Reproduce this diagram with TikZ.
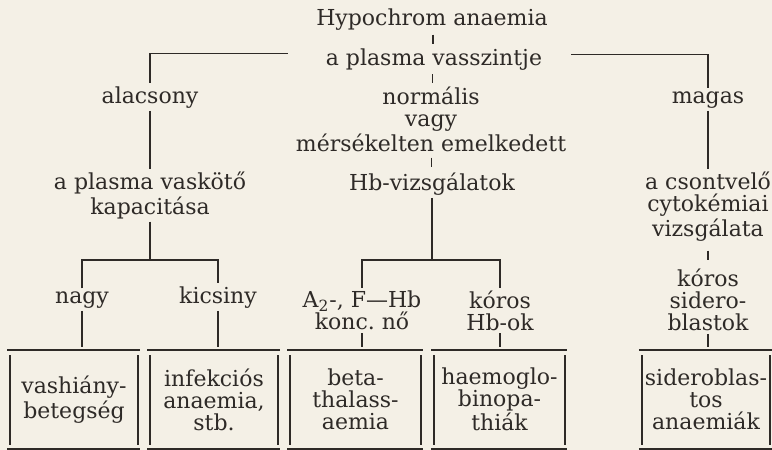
\documentclass[tikz,border=0pt]{standalone}
\usepackage{fontspec}
\setmainfont{DejaVu Serif}
\usetikzlibrary{calc}

\definecolor{paper}{HTML}{F4F0E6}
\definecolor{ink}{HTML}{2E2A27}

% short stroke half way between two stacked labels
\newcommand\stub[2]{\draw[link] ($(#1.south)!.5!(#2.north)$) ++(0,-4.5) -- ++(0,9);}

\begin{document}
\begin{tikzpicture}[x=0.5pt,y=-0.5pt,
  every node/.style={font=\fontsize{11}{11}\selectfont,text=ink,inner sep=1.5pt,outer sep=0pt},
  lbl/.style={align=center},
  leaf/.style={align=center,minimum width=64pt,minimum height=49.5pt},
  link/.style={draw=ink,line width=0.8pt}]
\fill[paper] (0,0) rectangle (772,450);
\useasboundingbox (0,0) rectangle (772,450);

% labels
\node[anchor=base] (hypo) at (432,25) {Hypochrom anaemia};
\node[anchor=base] (vassz) at (434,65) {a plasma vasszintje};
\node[anchor=base] (alacs) at (150,103) {alacsony};
\node[lbl] (normal) at (431,119.5) {normális\\vagy\\mérsékelten emelkedett};
\node[anchor=base] (magas) at (708,103) {magas};
\node[lbl] (kapac) at (150,195.5) {a plasma vaskötő\\kapacitása};
\node[anchor=base] (hbvizs) at (432,190) {Hb-vizsgálatok};
\node[lbl] (csont) at (708,206.5) {a csontvelő\\cytokémiai\\vizsgálata};
\node[anchor=base] (nagy) at (82,303) {nagy};
\node[anchor=base] (kicsi) at (218,303) {kicsiny};
\node[lbl] (konc) at (362,310.5) {A\textsubscript{2}-, F---Hb\\konc.\ nő};
\node[lbl] (korhb) at (500,310.5) {kóros\\Hb-ok};
\node[lbl] (korsid) at (708,300) {kóros\\sidero-\\blastok};

% end boxes
\node[leaf] (vashiany) at (74,399.5) {vashiány-\\betegség};
\node[leaf] (infekc) at (214,399.5) {infekciós\\anaemia,\\stb.};
\node[leaf,minimum width=65.5pt] (thalass) at (355.5,399.5) {beta-\\thalass-\\aemia};
\node[leaf,minimum width=65.5pt] (haemogl) at (499.5,399.5) {haemoglo-\\binopa-\\thiák};
\node[leaf] (siderob) at (706,399.5) {sideroblas-\\tos\\anaemiák};

% connectors
\stub{hypo}{vassz}
\stub{vassz}{normal}
\stub{normal}{hbvizs}
\stub{csont}{korsid}
\draw[link] ($(vassz.west)+(-35,-5.5)$) -| (alacs);
\draw[link] ($(vassz.east)+(26,-4.5)$) -| (magas);
\draw[link] (alacs) -- (kapac);
\draw[link] (magas) -- (csont);
\coordinate (forkL) at (150,260);
\coordinate (forkM) at (432,260);
\draw[link] (kapac) -- (forkL);
\draw[link] (nagy) -- (nagy |- forkL) -- (kicsi |- forkL) -- (kicsi);
\draw[link] (hbvizs) -- (forkM);
\draw[link] (konc) -- (konc |- forkM) -- (korhb |- forkM) -- (korhb);
\draw[link,shorten >=1.5pt] (nagy) -- (nagy |- vashiany.north);
\draw[link,shorten >=1.5pt] (kicsi) -- (kicsi |- infekc.north);
\draw[link,shorten >=1.5pt] (konc) -- (konc |- thalass.north);
\draw[link,shorten >=1.5pt] (korhb) -- (korhb |- haemogl.north);
\draw[link,shorten >=1.5pt] (korsid) -- (korsid |- siderob.north);

% box frames
\foreach \b in {vashiany,infekc,thalass,haemogl,siderob}{
  \draw[link] ($(\b.north west)+(-3,0)$) -- ($(\b.north east)+(2,0)$);
  \draw[link] ($(\b.north west)+(0,5)$) -- ($(\b.south west)+(0,-4)$);
  \draw[link] ($(\b.north east)+(0,5)$) -- ($(\b.south east)+(0,-4)$);
  \draw[link] ($(\b.south west)+(-3,0)$) -- ($(\b.south east)+(2,0)$);
}
\end{tikzpicture}
\end{document}
